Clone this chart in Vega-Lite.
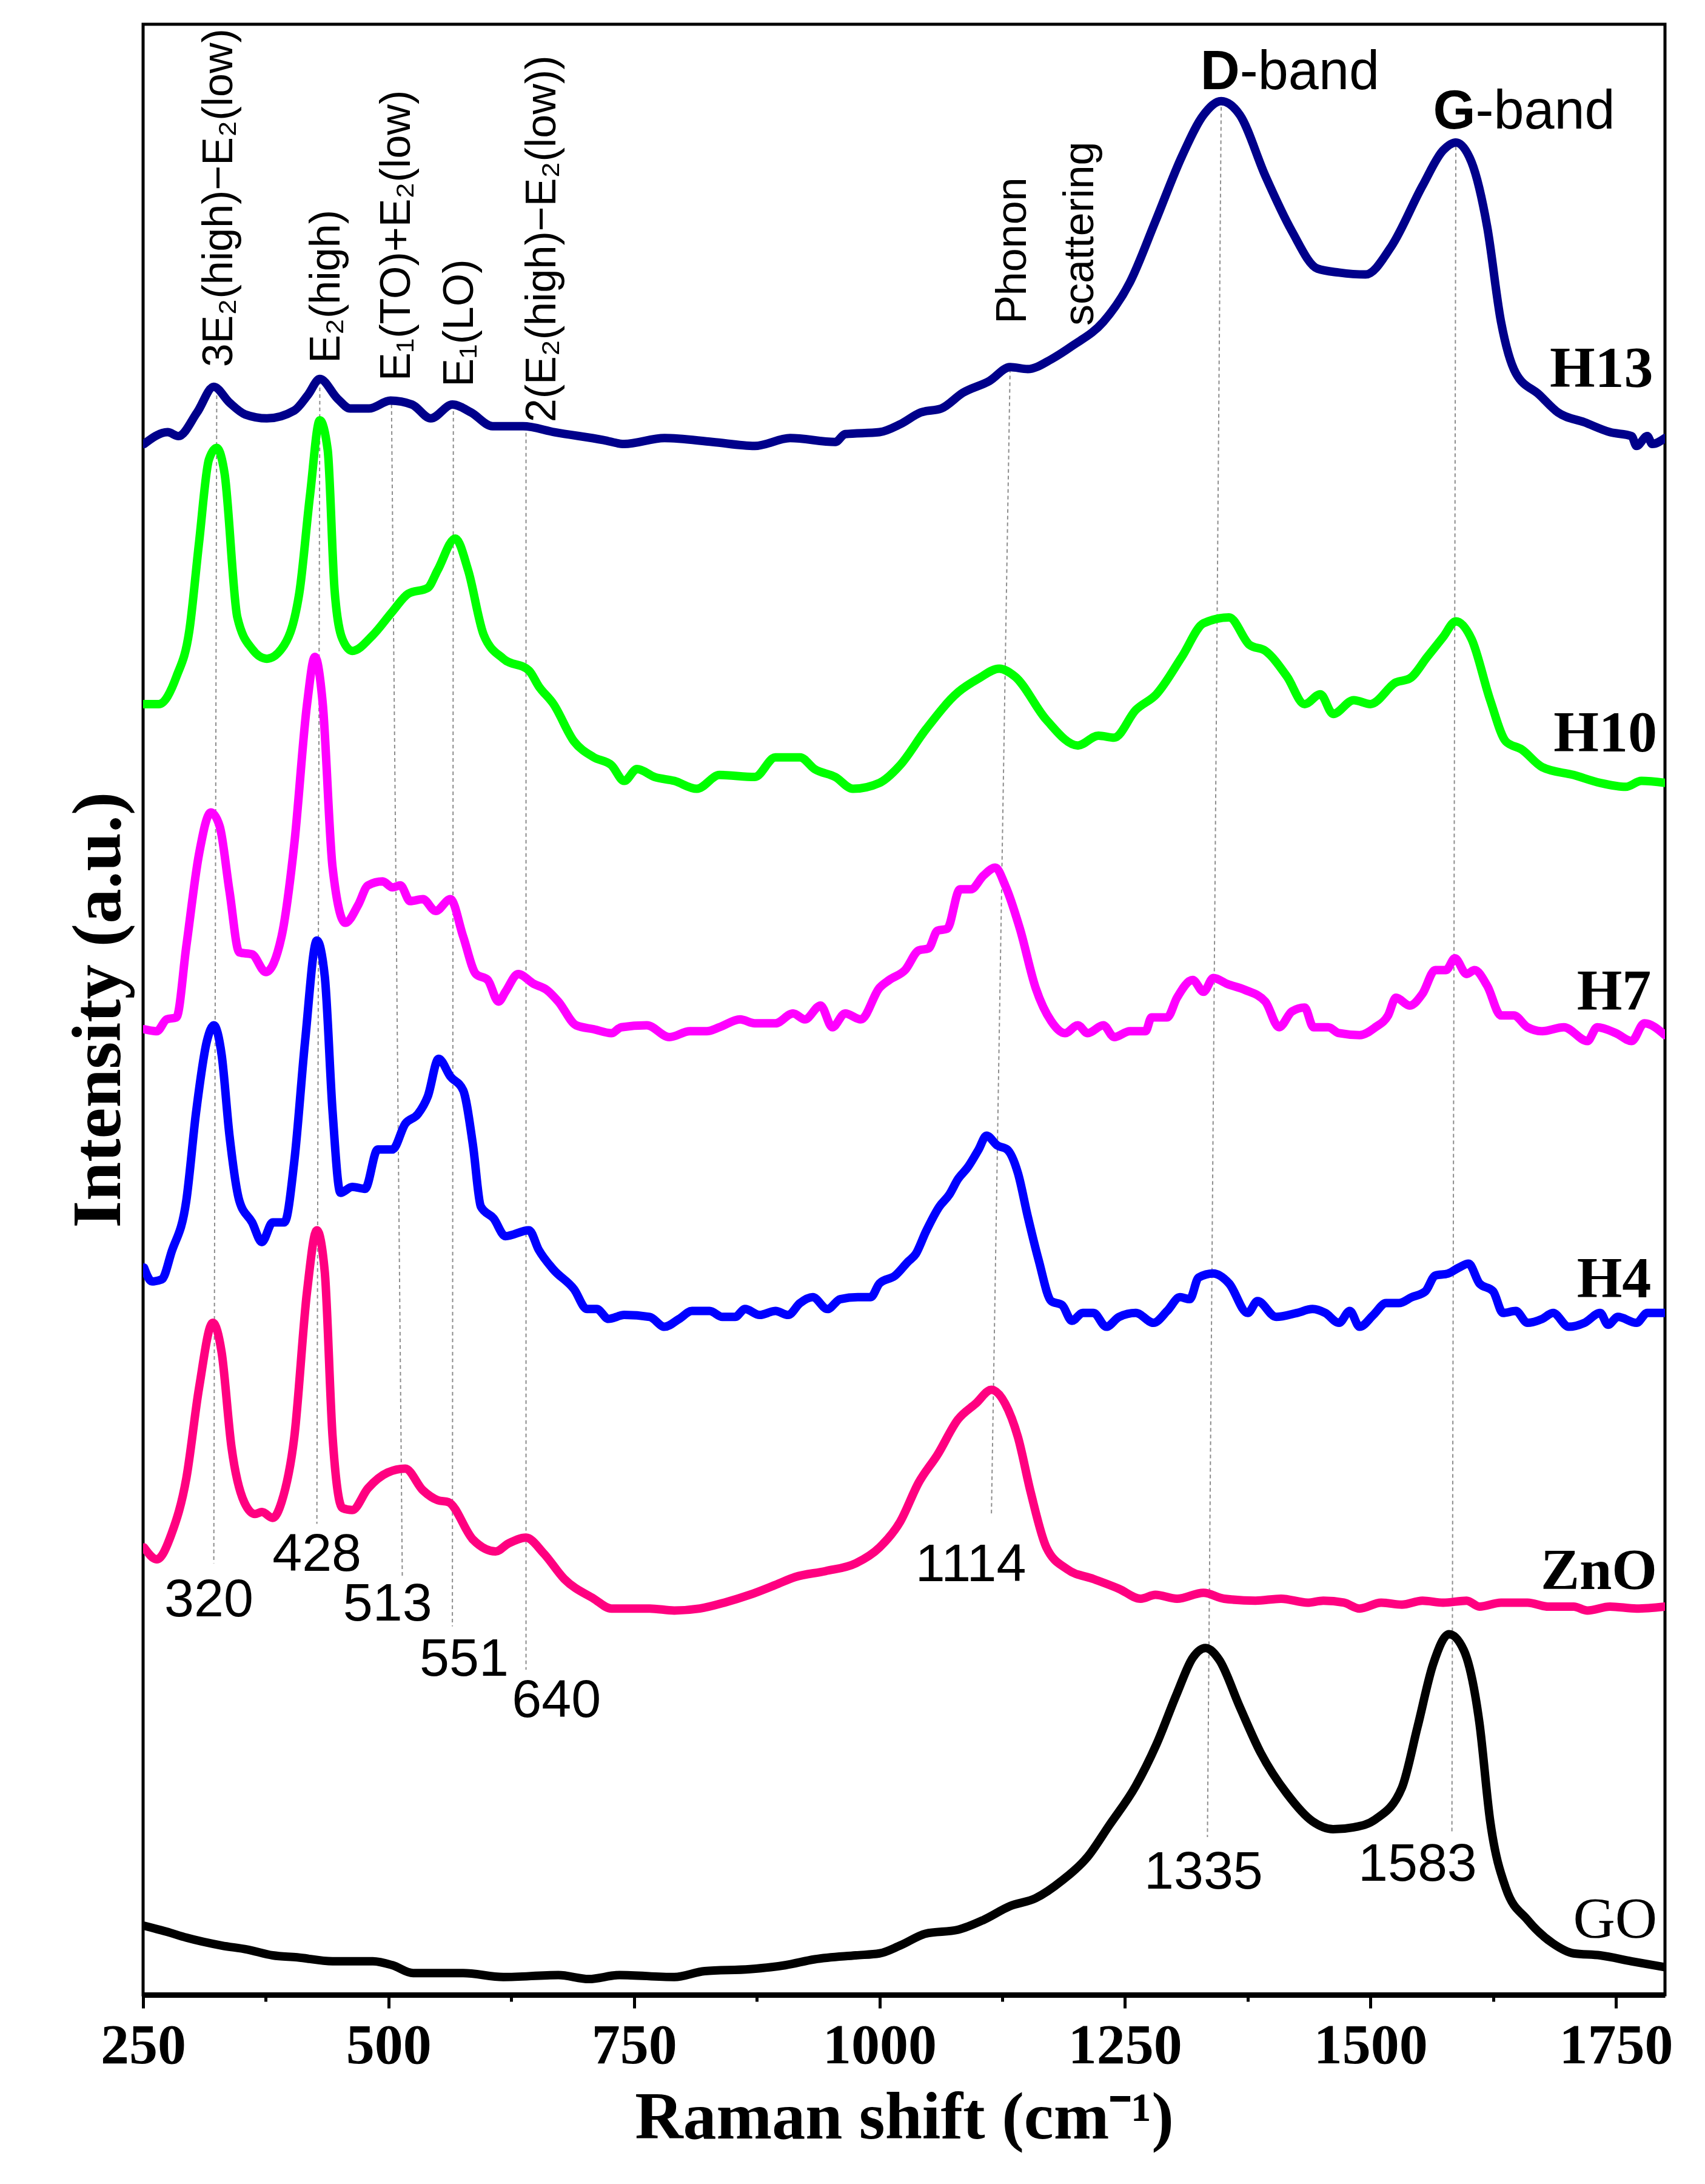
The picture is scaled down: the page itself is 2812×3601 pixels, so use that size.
{
"$schema": "https://vega.github.io/schema/vega-lite/v6.json",
"width": 2510, "height": 3249,
"autosize": {"type": "none"},
"padding": {"left": 236, "top": 40, "right": 66, "bottom": 312},
"background": "white",
"config": {"view": {"stroke": "black", "strokeWidth": 5}},
"datasets": {
"curves": [
{"s":"H13","x":251,"y":78.7},{"s":"H13","x":275,"y":79.3},{"s":"H13","x":286,"y":79.1},{"s":"H13","x":305,"y":80.3},{"s":"H13","x":322,"y":81.6},{"s":"H13","x":338,"y":80.8},{"s":"H13","x":354,"y":80.2},{"s":"H13","x":376,"y":80.0},{"s":"H13","x":404,"y":80.4},{"s":"H13","x":418,"y":81.2},{"s":"H13","x":430,"y":82.0},{"s":"H13","x":448,"y":81.0},{"s":"H13","x":461,"y":80.5},{"s":"H13","x":480,"y":80.5},{"s":"H13","x":502,"y":80.9},{"s":"H13","x":524,"y":80.7},{"s":"H13","x":543,"y":80.0},{"s":"H13","x":565,"y":80.7},{"s":"H13","x":584,"y":80.3},{"s":"H13","x":606,"y":79.6},{"s":"H13","x":637,"y":79.6},{"s":"H13","x":669,"y":79.3},{"s":"H13","x":719,"y":78.9},{"s":"H13","x":740,"y":78.7},{"s":"H13","x":781,"y":79.0},{"s":"H13","x":830,"y":78.8},{"s":"H13","x":873,"y":78.6},{"s":"H13","x":909,"y":79.0},{"s":"H13","x":955,"y":78.8},{"s":"H13","x":965,"y":79.2},{"s":"H13","x":1000,"y":79.3},{"s":"H13","x":1021,"y":79.7},{"s":"H13","x":1042,"y":80.3},{"s":"H13","x":1063,"y":80.5},{"s":"H13","x":1085,"y":81.3},{"s":"H13","x":1112,"y":81.9},{"s":"H13","x":1133,"y":82.6},{"s":"H13","x":1151,"y":82.5},{"s":"H13","x":1175,"y":83.0},{"s":"H13","x":1197,"y":83.7},{"s":"H13","x":1228,"y":84.9},{"s":"H13","x":1255,"y":86.9},{"s":"H13","x":1281,"y":90.0},{"s":"H13","x":1308,"y":93.3},{"s":"H13","x":1330,"y":95.4},{"s":"H13","x":1348,"y":96.1},{"s":"H13","x":1367,"y":95.4},{"s":"H13","x":1393,"y":92.3},{"s":"H13","x":1420,"y":89.5},{"s":"H13","x":1446,"y":87.6},{"s":"H13","x":1468,"y":87.4},{"s":"H13","x":1495,"y":87.3},{"s":"H13","x":1521,"y":88.7},{"s":"H13","x":1553,"y":91.8},{"s":"H13","x":1574,"y":93.6},{"s":"H13","x":1587,"y":94.0},{"s":"H13","x":1603,"y":93.0},{"s":"H13","x":1619,"y":89.7},{"s":"H13","x":1633,"y":84.9},{"s":"H13","x":1648,"y":82.3},{"s":"H13","x":1672,"y":81.2},{"s":"H13","x":1691,"y":80.3},{"s":"H13","x":1718,"y":79.8},{"s":"H13","x":1744,"y":79.3},{"s":"H13","x":1766,"y":79.1},{"s":"H13","x":1771,"y":78.6},{"s":"H13","x":1782,"y":79.1},{"s":"H13","x":1787,"y":78.7},{"s":"H13","x":1800,"y":79.0},
{"s":"H10","x":251,"y":65.5},{"s":"H10","x":266,"y":65.5},{"s":"H10","x":284,"y":66.9},{"s":"H10","x":297,"y":69.2},{"s":"H10","x":307,"y":73.7},{"s":"H10","x":317,"y":77.9},{"s":"H10","x":325,"y":78.5},{"s":"H10","x":333,"y":77.2},{"s":"H10","x":346,"y":69.9},{"s":"H10","x":361,"y":68.3},{"s":"H10","x":376,"y":67.8},{"s":"H10","x":391,"y":68.3},{"s":"H10","x":409,"y":71.1},{"s":"H10","x":420,"y":76.1},{"s":"H10","x":430,"y":79.9},{"s":"H10","x":438,"y":78.4},{"s":"H10","x":445,"y":71.3},{"s":"H10","x":453,"y":68.8},{"s":"H10","x":463,"y":68.2},{"s":"H10","x":484,"y":69.0},{"s":"H10","x":504,"y":70.2},{"s":"H10","x":520,"y":71.1},{"s":"H10","x":540,"y":71.4},{"s":"H10","x":550,"y":72.3},{"s":"H10","x":568,"y":73.9},{"s":"H10","x":581,"y":72.3},{"s":"H10","x":597,"y":69.0},{"s":"H10","x":617,"y":67.8},{"s":"H10","x":643,"y":67.2},{"s":"H10","x":653,"y":66.4},{"s":"H10","x":668,"y":65.5},{"s":"H10","x":689,"y":63.6},{"s":"H10","x":709,"y":62.8},{"s":"H10","x":727,"y":62.4},{"s":"H10","x":740,"y":61.6},{"s":"H10","x":753,"y":62.2},{"s":"H10","x":771,"y":61.8},{"s":"H10","x":791,"y":61.6},{"s":"H10","x":814,"y":61.2},{"s":"H10","x":837,"y":61.9},{"s":"H10","x":873,"y":61.8},{"s":"H10","x":894,"y":62.8},{"s":"H10","x":919,"y":62.8},{"s":"H10","x":934,"y":62.2},{"s":"H10","x":955,"y":61.8},{"s":"H10","x":973,"y":61.2},{"s":"H10","x":1000,"y":61.5},{"s":"H10","x":1021,"y":62.4},{"s":"H10","x":1047,"y":64.2},{"s":"H10","x":1080,"y":66.1},{"s":"H10","x":1101,"y":66.8},{"s":"H10","x":1122,"y":67.3},{"s":"H10","x":1138,"y":66.9},{"s":"H10","x":1170,"y":64.7},{"s":"H10","x":1202,"y":63.4},{"s":"H10","x":1223,"y":63.9},{"s":"H10","x":1239,"y":63.8},{"s":"H10","x":1261,"y":65.2},{"s":"H10","x":1282,"y":66.0},{"s":"H10","x":1308,"y":67.9},{"s":"H10","x":1330,"y":69.6},{"s":"H10","x":1356,"y":69.9},{"s":"H10","x":1377,"y":68.5},{"s":"H10","x":1393,"y":68.2},{"s":"H10","x":1415,"y":66.9},{"s":"H10","x":1433,"y":65.5},{"s":"H10","x":1449,"y":66.0},{"s":"H10","x":1462,"y":65.0},{"s":"H10","x":1483,"y":65.7},{"s":"H10","x":1500,"y":65.5},{"s":"H10","x":1526,"y":66.6},{"s":"H10","x":1540,"y":66.8},{"s":"H10","x":1558,"y":67.9},{"s":"H10","x":1574,"y":68.9},{"s":"H10","x":1587,"y":69.7},{"s":"H10","x":1603,"y":68.8},{"s":"H10","x":1622,"y":65.7},{"s":"H10","x":1638,"y":63.6},{"s":"H10","x":1654,"y":63.2},{"s":"H10","x":1675,"y":62.3},{"s":"H10","x":1707,"y":61.9},{"s":"H10","x":1734,"y":61.5},{"s":"H10","x":1760,"y":61.3},{"s":"H10","x":1776,"y":61.6},{"s":"H10","x":1800,"y":61.5},
{"s":"H7","x":251,"y":49.0},{"s":"H7","x":264,"y":48.9},{"s":"H7","x":274,"y":49.5},{"s":"H7","x":284,"y":49.6},{"s":"H7","x":294,"y":53.2},{"s":"H7","x":307,"y":57.9},{"s":"H7","x":319,"y":60.0},{"s":"H7","x":328,"y":59.3},{"s":"H7","x":338,"y":56.0},{"s":"H7","x":348,"y":52.9},{"s":"H7","x":361,"y":52.8},{"s":"H7","x":375,"y":51.9},{"s":"H7","x":391,"y":53.7},{"s":"H7","x":404,"y":58.4},{"s":"H7","x":417,"y":65.5},{"s":"H7","x":425,"y":67.9},{"s":"H7","x":433,"y":65.5},{"s":"H7","x":443,"y":57.2},{"s":"H7","x":456,"y":54.4},{"s":"H7","x":469,"y":55.3},{"s":"H7","x":479,"y":56.3},{"s":"H7","x":494,"y":56.5},{"s":"H7","x":504,"y":56.2},{"s":"H7","x":512,"y":56.3},{"s":"H7","x":522,"y":55.5},{"s":"H7","x":535,"y":55.6},{"s":"H7","x":548,"y":55.0},{"s":"H7","x":563,"y":55.6},{"s":"H7","x":576,"y":53.7},{"s":"H7","x":589,"y":51.8},{"s":"H7","x":601,"y":51.5},{"s":"H7","x":612,"y":50.4},{"s":"H7","x":619,"y":50.9},{"s":"H7","x":632,"y":51.8},{"s":"H7","x":648,"y":51.3},{"s":"H7","x":661,"y":51.0},{"s":"H7","x":673,"y":50.4},{"s":"H7","x":691,"y":49.2},{"s":"H7","x":709,"y":49.0},{"s":"H7","x":727,"y":48.8},{"s":"H7","x":737,"y":49.1},{"s":"H7","x":763,"y":49.2},{"s":"H7","x":786,"y":48.6},{"s":"H7","x":807,"y":48.9},{"s":"H7","x":824,"y":48.9},{"s":"H7","x":837,"y":49.1},{"s":"H7","x":858,"y":49.5},{"s":"H7","x":873,"y":49.3},{"s":"H7","x":894,"y":49.3},{"s":"H7","x":912,"y":49.8},{"s":"H7","x":924,"y":49.5},{"s":"H7","x":940,"y":50.2},{"s":"H7","x":952,"y":49.1},{"s":"H7","x":965,"y":49.8},{"s":"H7","x":981,"y":49.5},{"s":"H7","x":1000,"y":51.1},{"s":"H7","x":1010,"y":51.5},{"s":"H7","x":1026,"y":52.0},{"s":"H7","x":1040,"y":53.0},{"s":"H7","x":1050,"y":53.1},{"s":"H7","x":1059,"y":54.0},{"s":"H7","x":1069,"y":54.1},{"s":"H7","x":1082,"y":56.1},{"s":"H7","x":1093,"y":56.1},{"s":"H7","x":1106,"y":56.8},{"s":"H7","x":1118,"y":57.2},{"s":"H7","x":1128,"y":56.3},{"s":"H7","x":1143,"y":54.1},{"s":"H7","x":1159,"y":51.1},{"s":"H7","x":1175,"y":49.4},{"s":"H7","x":1189,"y":48.8},{"s":"H7","x":1202,"y":49.2},{"s":"H7","x":1212,"y":48.8},{"s":"H7","x":1228,"y":49.2},{"s":"H7","x":1239,"y":48.6},{"s":"H7","x":1255,"y":48.9},{"s":"H7","x":1271,"y":48.9},{"s":"H7","x":1277,"y":49.6},{"s":"H7","x":1293,"y":49.6},{"s":"H7","x":1303,"y":50.6},{"s":"H7","x":1319,"y":51.5},{"s":"H7","x":1330,"y":50.9},{"s":"H7","x":1340,"y":51.6},{"s":"H7","x":1354,"y":51.3},{"s":"H7","x":1372,"y":51.0},{"s":"H7","x":1393,"y":50.4},{"s":"H7","x":1407,"y":49.1},{"s":"H7","x":1420,"y":49.9},{"s":"H7","x":1433,"y":50.1},{"s":"H7","x":1442,"y":49.1},{"s":"H7","x":1457,"y":49.1},{"s":"H7","x":1468,"y":48.8},{"s":"H7","x":1489,"y":48.7},{"s":"H7","x":1505,"y":49.1},{"s":"H7","x":1518,"y":49.7},{"s":"H7","x":1526,"y":50.6},{"s":"H7","x":1540,"y":50.2},{"s":"H7","x":1553,"y":50.8},{"s":"H7","x":1566,"y":52.0},{"s":"H7","x":1577,"y":52.0},{"s":"H7","x":1586,"y":52.6},{"s":"H7","x":1598,"y":51.8},{"s":"H7","x":1606,"y":52.0},{"s":"H7","x":1619,"y":51.2},{"s":"H7","x":1633,"y":49.7},{"s":"H7","x":1646,"y":49.7},{"s":"H7","x":1660,"y":49.1},{"s":"H7","x":1675,"y":48.9},{"s":"H7","x":1697,"y":49.1},{"s":"H7","x":1721,"y":48.4},{"s":"H7","x":1731,"y":49.1},{"s":"H7","x":1750,"y":48.8},{"s":"H7","x":1766,"y":48.4},{"s":"H7","x":1779,"y":49.3},{"s":"H7","x":1800,"y":48.7},
{"s":"H4","x":251,"y":36.9},{"s":"H4","x":259,"y":36.2},{"s":"H4","x":269,"y":36.3},{"s":"H4","x":279,"y":37.7},{"s":"H4","x":294,"y":40.3},{"s":"H4","x":304,"y":44.8},{"s":"H4","x":315,"y":48.4},{"s":"H4","x":322,"y":49.2},{"s":"H4","x":330,"y":47.7},{"s":"H4","x":338,"y":43.6},{"s":"H4","x":348,"y":40.3},{"s":"H4","x":361,"y":39.2},{"s":"H4","x":371,"y":38.2},{"s":"H4","x":382,"y":39.2},{"s":"H4","x":394,"y":39.2},{"s":"H4","x":404,"y":42.3},{"s":"H4","x":415,"y":48.4},{"s":"H4","x":427,"y":53.5},{"s":"H4","x":435,"y":51.7},{"s":"H4","x":443,"y":44.8},{"s":"H4","x":451,"y":40.7},{"s":"H4","x":463,"y":41.0},{"s":"H4","x":476,"y":40.9},{"s":"H4","x":489,"y":42.9},{"s":"H4","x":504,"y":42.9},{"s":"H4","x":517,"y":44.2},{"s":"H4","x":530,"y":44.7},{"s":"H4","x":540,"y":45.6},{"s":"H4","x":551,"y":47.5},{"s":"H4","x":563,"y":46.6},{"s":"H4","x":576,"y":45.9},{"s":"H4","x":586,"y":43.1},{"s":"H4","x":594,"y":40.0},{"s":"H4","x":607,"y":39.4},{"s":"H4","x":619,"y":38.5},{"s":"H4","x":643,"y":38.8},{"s":"H4","x":653,"y":37.8},{"s":"H4","x":668,"y":36.8},{"s":"H4","x":689,"y":35.8},{"s":"H4","x":702,"y":34.8},{"s":"H4","x":712,"y":34.8},{"s":"H4","x":724,"y":34.3},{"s":"H4","x":740,"y":34.5},{"s":"H4","x":766,"y":34.4},{"s":"H4","x":781,"y":33.9},{"s":"H4","x":796,"y":34.3},{"s":"H4","x":809,"y":34.7},{"s":"H4","x":827,"y":34.7},{"s":"H4","x":840,"y":34.4},{"s":"H4","x":853,"y":34.4},{"s":"H4","x":863,"y":34.8},{"s":"H4","x":878,"y":34.5},{"s":"H4","x":894,"y":34.7},{"s":"H4","x":907,"y":34.5},{"s":"H4","x":919,"y":35.1},{"s":"H4","x":932,"y":35.4},{"s":"H4","x":947,"y":34.8},{"s":"H4","x":960,"y":35.3},{"s":"H4","x":978,"y":35.4},{"s":"H4","x":991,"y":35.4},{"s":"H4","x":1000,"y":36.1},{"s":"H4","x":1016,"y":36.5},{"s":"H4","x":1029,"y":37.2},{"s":"H4","x":1037,"y":37.6},{"s":"H4","x":1047,"y":38.7},{"s":"H4","x":1061,"y":40.0},{"s":"H4","x":1071,"y":40.6},{"s":"H4","x":1080,"y":41.4},{"s":"H4","x":1090,"y":42.0},{"s":"H4","x":1101,"y":42.9},{"s":"H4","x":1109,"y":43.6},{"s":"H4","x":1120,"y":43.1},{"s":"H4","x":1130,"y":42.9},{"s":"H4","x":1141,"y":41.7},{"s":"H4","x":1151,"y":39.5},{"s":"H4","x":1162,"y":37.3},{"s":"H4","x":1175,"y":35.2},{"s":"H4","x":1186,"y":35.0},{"s":"H4","x":1196,"y":34.2},{"s":"H4","x":1207,"y":34.6},{"s":"H4","x":1218,"y":34.6},{"s":"H4","x":1231,"y":33.9},{"s":"H4","x":1244,"y":34.4},{"s":"H4","x":1261,"y":34.6},{"s":"H4","x":1279,"y":34.1},{"s":"H4","x":1293,"y":34.7},{"s":"H4","x":1306,"y":35.4},{"s":"H4","x":1316,"y":35.3},{"s":"H4","x":1325,"y":36.4},{"s":"H4","x":1340,"y":36.6},{"s":"H4","x":1356,"y":36.1},{"s":"H4","x":1375,"y":34.6},{"s":"H4","x":1385,"y":35.2},{"s":"H4","x":1404,"y":34.4},{"s":"H4","x":1425,"y":34.6},{"s":"H4","x":1441,"y":34.8},{"s":"H4","x":1454,"y":34.6},{"s":"H4","x":1468,"y":34.1},{"s":"H4","x":1479,"y":34.7},{"s":"H4","x":1489,"y":33.9},{"s":"H4","x":1503,"y":34.5},{"s":"H4","x":1516,"y":35.1},{"s":"H4","x":1529,"y":35.1},{"s":"H4","x":1542,"y":35.4},{"s":"H4","x":1556,"y":35.7},{"s":"H4","x":1566,"y":36.5},{"s":"H4","x":1579,"y":36.6},{"s":"H4","x":1590,"y":36.9},{"s":"H4","x":1600,"y":37.1},{"s":"H4","x":1611,"y":36.1},{"s":"H4","x":1625,"y":35.7},{"s":"H4","x":1635,"y":34.6},{"s":"H4","x":1648,"y":34.7},{"s":"H4","x":1660,"y":34.1},{"s":"H4","x":1675,"y":34.3},{"s":"H4","x":1686,"y":34.6},{"s":"H4","x":1702,"y":33.9},{"s":"H4","x":1718,"y":34.1},{"s":"H4","x":1734,"y":34.6},{"s":"H4","x":1742,"y":34.0},{"s":"H4","x":1752,"y":34.4},{"s":"H4","x":1771,"y":34.1},{"s":"H4","x":1782,"y":34.6},{"s":"H4","x":1800,"y":34.6},
{"s":"ZnO","x":251,"y":22.7},{"s":"ZnO","x":264,"y":22.1},{"s":"ZnO","x":279,"y":23.4},{"s":"ZnO","x":294,"y":26.2},{"s":"ZnO","x":307,"y":30.8},{"s":"ZnO","x":321,"y":34.1},{"s":"ZnO","x":330,"y":32.6},{"s":"ZnO","x":340,"y":27.8},{"s":"ZnO","x":353,"y":25.0},{"s":"ZnO","x":364,"y":24.4},{"s":"ZnO","x":371,"y":24.5},{"s":"ZnO","x":382,"y":24.2},{"s":"ZnO","x":391,"y":25.0},{"s":"ZnO","x":404,"y":28.3},{"s":"ZnO","x":417,"y":35.7},{"s":"ZnO","x":427,"y":38.8},{"s":"ZnO","x":435,"y":36.7},{"s":"ZnO","x":443,"y":28.3},{"s":"ZnO","x":453,"y":24.7},{"s":"ZnO","x":463,"y":24.6},{"s":"ZnO","x":479,"y":25.7},{"s":"ZnO","x":499,"y":26.5},{"s":"ZnO","x":517,"y":26.7},{"s":"ZnO","x":535,"y":25.6},{"s":"ZnO","x":550,"y":25.1},{"s":"ZnO","x":561,"y":25.0},{"s":"ZnO","x":586,"y":23.1},{"s":"ZnO","x":609,"y":22.5},{"s":"ZnO","x":622,"y":22.9},{"s":"ZnO","x":640,"y":23.2},{"s":"ZnO","x":658,"y":22.4},{"s":"ZnO","x":679,"y":21.1},{"s":"ZnO","x":709,"y":20.1},{"s":"ZnO","x":727,"y":19.6},{"s":"ZnO","x":766,"y":19.6},{"s":"ZnO","x":791,"y":19.5},{"s":"ZnO","x":817,"y":19.6},{"s":"ZnO","x":842,"y":19.9},{"s":"ZnO","x":868,"y":20.3},{"s":"ZnO","x":894,"y":20.8},{"s":"ZnO","x":914,"y":21.2},{"s":"ZnO","x":945,"y":21.5},{"s":"ZnO","x":976,"y":21.9},{"s":"ZnO","x":1000,"y":22.7},{"s":"ZnO","x":1021,"y":24.0},{"s":"ZnO","x":1040,"y":26.0},{"s":"ZnO","x":1059,"y":27.4},{"s":"ZnO","x":1080,"y":29.2},{"s":"ZnO","x":1098,"y":30.0},{"s":"ZnO","x":1114,"y":30.7},{"s":"ZnO","x":1128,"y":30.0},{"s":"ZnO","x":1141,"y":28.3},{"s":"ZnO","x":1154,"y":25.5},{"s":"ZnO","x":1170,"y":22.7},{"s":"ZnO","x":1191,"y":21.6},{"s":"ZnO","x":1218,"y":21.1},{"s":"ZnO","x":1244,"y":20.6},{"s":"ZnO","x":1266,"y":20.1},{"s":"ZnO","x":1281,"y":20.3},{"s":"ZnO","x":1303,"y":20.1},{"s":"ZnO","x":1330,"y":20.4},{"s":"ZnO","x":1351,"y":20.1},{"s":"ZnO","x":1383,"y":20.0},{"s":"ZnO","x":1409,"y":20.1},{"s":"ZnO","x":1436,"y":19.9},{"s":"ZnO","x":1452,"y":20.0},{"s":"ZnO","x":1473,"y":19.9},{"s":"ZnO","x":1489,"y":19.6},{"s":"ZnO","x":1511,"y":19.9},{"s":"ZnO","x":1532,"y":19.8},{"s":"ZnO","x":1553,"y":20.0},{"s":"ZnO","x":1574,"y":19.9},{"s":"ZnO","x":1598,"y":20.0},{"s":"ZnO","x":1611,"y":19.7},{"s":"ZnO","x":1633,"y":19.9},{"s":"ZnO","x":1660,"y":19.9},{"s":"ZnO","x":1681,"y":19.7},{"s":"ZnO","x":1707,"y":19.7},{"s":"ZnO","x":1721,"y":19.5},{"s":"ZnO","x":1744,"y":19.7},{"s":"ZnO","x":1771,"y":19.6},{"s":"ZnO","x":1800,"y":19.7},
{"s":"GO","x":251,"y":3.5},{"s":"GO","x":274,"y":3.2},{"s":"GO","x":294,"y":2.9},{"s":"GO","x":330,"y":2.5},{"s":"GO","x":356,"y":2.3},{"s":"GO","x":382,"y":2.0},{"s":"GO","x":407,"y":1.9},{"s":"GO","x":443,"y":1.7},{"s":"GO","x":484,"y":1.7},{"s":"GO","x":504,"y":1.5},{"s":"GO","x":525,"y":1.1},{"s":"GO","x":545,"y":1.1},{"s":"GO","x":576,"y":1.1},{"s":"GO","x":617,"y":0.9},{"s":"GO","x":673,"y":1.0},{"s":"GO","x":704,"y":0.8},{"s":"GO","x":735,"y":1.0},{"s":"GO","x":791,"y":0.9},{"s":"GO","x":822,"y":1.2},{"s":"GO","x":868,"y":1.3},{"s":"GO","x":904,"y":1.5},{"s":"GO","x":934,"y":1.8},{"s":"GO","x":976,"y":2.0},{"s":"GO","x":1000,"y":2.1},{"s":"GO","x":1021,"y":2.5},{"s":"GO","x":1047,"y":3.1},{"s":"GO","x":1080,"y":3.3},{"s":"GO","x":1106,"y":3.8},{"s":"GO","x":1133,"y":4.5},{"s":"GO","x":1159,"y":4.9},{"s":"GO","x":1186,"y":5.8},{"s":"GO","x":1212,"y":7.0},{"s":"GO","x":1234,"y":8.6},{"s":"GO","x":1261,"y":10.6},{"s":"GO","x":1282,"y":12.7},{"s":"GO","x":1303,"y":15.3},{"s":"GO","x":1319,"y":17.1},{"s":"GO","x":1332,"y":17.6},{"s":"GO","x":1346,"y":17.0},{"s":"GO","x":1367,"y":14.6},{"s":"GO","x":1388,"y":12.3},{"s":"GO","x":1415,"y":10.2},{"s":"GO","x":1441,"y":8.8},{"s":"GO","x":1462,"y":8.4},{"s":"GO","x":1483,"y":8.5},{"s":"GO","x":1505,"y":8.9},{"s":"GO","x":1532,"y":10.5},{"s":"GO","x":1548,"y":13.6},{"s":"GO","x":1564,"y":16.8},{"s":"GO","x":1580,"y":18.3},{"s":"GO","x":1595,"y":17.5},{"s":"GO","x":1611,"y":13.8},{"s":"GO","x":1622,"y":8.8},{"s":"GO","x":1638,"y":5.4},{"s":"GO","x":1660,"y":3.8},{"s":"GO","x":1686,"y":2.6},{"s":"GO","x":1707,"y":2.1},{"s":"GO","x":1734,"y":2.0},{"s":"GO","x":1766,"y":1.7},{"s":"GO","x":1800,"y":1.4}
],
"refs": [
{"x":325,"y":81.5,"x2":322,"y2":21.9},
{"x":430,"y":81.9,"x2":427,"y2":23.9},
{"x":503,"y":80.7,"x2":514,"y2":21.2},
{"x":566,"y":80.7,"x2":565,"y2":18.7},
{"x":640,"y":79.6,"x2":640,"y2":16.5},
{"x":1133,"y":82.5,"x2":1114,"y2":24.4},
{"x":1348,"y":95.8,"x2":1334,"y2":8.0},
{"x":1587,"y":93.8,"x2":1583,"y2":8.2}
],
"nums": [
{"t":"320","x":317,"y":20.0},
{"t":"428","x":427,"y":22.3},
{"t":"513","x":499,"y":19.8},
{"t":"551","x":577,"y":17.0},
{"t":"640","x":671,"y":14.9},
{"t":"1114","x":1093,"y":21.8},
{"t":"1335","x":1330,"y":6.2},
{"t":"1583","x":1548,"y":6.6}
],
"modes": [
{"t":"3E₂(high)−E₂(low)","x":328,"y":82.6},
{"t":"E₂(high)","x":437,"y":82.8},
{"t":"E₁(TO)+E₂(low)","x":509,"y":81.9},
{"t":"E₁(LO)","x":573,"y":81.6},
{"t":"2(E₂(high)−E₂(low))","x":657,"y":79.8},
{"t":"Phonon","x":1136,"y":84.8},
{"t":"scattering","x":1205,"y":84.7}
],
"bandKeys": [
{"t":"D","x":1367,"y":96.7},
{"t":"G","x":1607,"y":94.7}
],
"bandRest": [
{"t":"-band","x":1367,"y":96.7},
{"t":"-band","x":1607,"y":94.7}
],
"names": [
{"t":"H13","x":1788,"y":81.6},
{"t":"H10","x":1792,"y":63.1},
{"t":"H7","x":1786,"y":50.0},
{"t":"H4","x":1786,"y":35.4},
{"t":"ZnO","x":1792,"y":20.6}
],
"goName": [
{"t":"GO","x":1792,"y":2.9}
]
},
"encoding": {
"x": {"field": "x", "type": "quantitative", "scale": {"domain": [250, 1800], "nice": false, "zero": false},
"axis": {"title": "Raman shift (cm⁻¹)", "values": [250, 375, 500, 625, 750, 875, 1000, 1125, 1250, 1375, 1500, 1625, 1750],
"labelExpr": "datum.value % 250 === 0 ? datum.label : ''", "format": "d", "grid": false,
"domainWidth": 9, "domainColor": "black", "tickColor": "black", "tickWidth": 5,
"tickSize": {"condition": {"test": "datum.value % 250 === 0", "value": 22}, "value": 11},
"labelFont": "Liberation Serif", "labelFontWeight": "bold", "labelFontSize": 94, "labelColor": "black", "labelPadding": 16,
"labelFlush": false, "labelOverlap": false, "labelLimit": 1000,
"titleFont": "Liberation Serif", "titleFontWeight": "bold", "titleFontSize": 110, "titleColor": "black", "titlePadding": 18, "titleLimit": 3000}},
"y": {"field": "y", "type": "quantitative", "scale": {"domain": [0, 100], "nice": false, "zero": false},
"axis": {"title": "Intensity (a.u.)", "labels": false, "ticks": false, "domain": false, "grid": false,
"titleFont": "Liberation Serif", "titleFontWeight": "bold", "titleFontSize": 115, "titleColor": "black", "titlePadding": 15, "titleLimit": 3000}}
},
"layer": [
{
"data": {"name": "refs"},
"mark": {"type": "rule", "color": "#8c8c8c", "strokeWidth": 2, "strokeDash": [6, 5]},
"encoding": {
"x2": {"field": "x2"},
"y2": {"field": "y2"}
}
},
{
"data": {"name": "curves"},
"mark": {"type": "line", "strokeWidth": 14, "strokeJoin": "round", "strokeCap": "round", "interpolate": "monotone", "clip": true},
"encoding": {
"color": {"field": "s", "type": "nominal", "scale": {"domain": ["H13", "H10", "H7", "H4", "ZnO", "GO"], "range": ["#00008b", "#00ff00", "#ff00ff", "#0000ff", "#ff0080", "#000000"]}, "legend": null},
"detail": {"field": "s"}
}
},
{
"data": {"name": "nums"},
"mark": {"type": "text", "font": "Liberation Sans", "fontSize": 88, "align": "center", "baseline": "middle", "color": "black"},
"encoding": {"text": {"field": "t"}}
},
{
"data": {"name": "modes"},
"mark": {"type": "text", "font": "Liberation Sans", "fontSize": 70, "align": "left", "baseline": "middle", "angle": 270, "color": "black"},
"encoding": {"text": {"field": "t"}}
},
{
"data": {"name": "bandKeys"},
"mark": {"type": "text", "font": "Liberation Sans", "fontSize": 90, "fontWeight": "bold", "align": "right", "baseline": "alphabetic", "color": "black"},
"encoding": {"text": {"field": "t"}}
},
{
"data": {"name": "bandRest"},
"mark": {"type": "text", "font": "Liberation Sans", "fontSize": 90, "align": "left", "baseline": "alphabetic", "color": "black"},
"encoding": {"text": {"field": "t"}}
},
{
"data": {"name": "names"},
"mark": {"type": "text", "font": "Liberation Serif", "fontSize": 96, "fontWeight": "bold", "align": "right", "baseline": "alphabetic", "color": "black"},
"encoding": {"text": {"field": "t"}}
},
{
"data": {"name": "goName"},
"mark": {"type": "text", "font": "Liberation Serif", "fontSize": 96, "align": "right", "baseline": "alphabetic", "color": "black"},
"encoding": {"text": {"field": "t"}}
}
]
}
